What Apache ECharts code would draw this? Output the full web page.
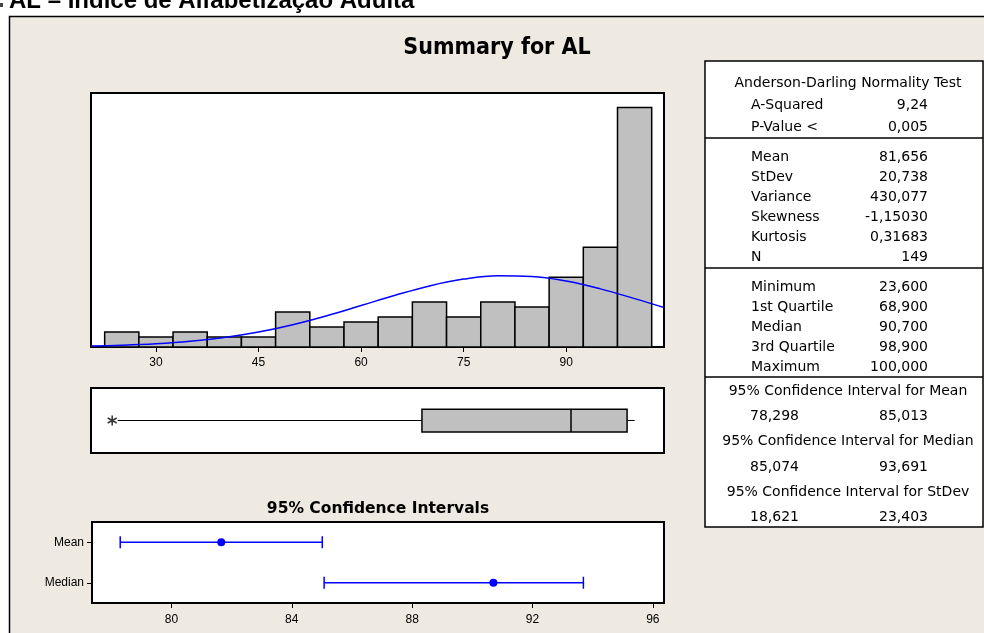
<!DOCTYPE html>
<html>
<head>
<meta charset="utf-8">
<script src="https://cdn.jsdelivr.net/npm/echarts@6/dist/echarts.min.js"></script>
<style>
  html, body { margin: 0; padding: 0; background: #fff; }
  #chart { width: 984px; height: 633px; }
</style>
</head>
<body>
<div id="chart"></div>
<script>
// histogram (bin centres, counts)
const binCenters = [25, 30, 35, 40, 45, 50, 55, 60, 65, 70, 75, 80, 85, 90, 95, 100]
const binCounts = [3, 2, 3, 2, 2, 7, 4, 5, 6, 9, 6, 9, 8, 14, 20, 48]
const binWidth = 5
// fitted normal curve
const curveX = [20.5, 25, 30, 35, 40, 45, 50, 55, 60, 65, 70, 75, 80, 85, 90, 95, 100, 104.3]
const curveY = [0.19, 0.34, 0.64, 1.14, 1.91, 3.0, 4.47, 6.27, 8.31, 10.38, 12.24, 13.61, 14.28, 14.15, 13.22, 11.65, 9.69, 7.9]
const histTicks = [30, 45, 60, 75, 90]

// box plot: lower whisker, Q1, median, Q3, upper whisker
const boxStats = [24.4, 68.9, 90.7, 98.9, 100]
const boxOutliers = [23.6]

// 95% confidence intervals
const ciRows = ['Median', 'Mean']
const ciLow = [85.074, 78.298]
const ciHigh = [93.691, 85.013]
const ciPoint = [90.7, 81.656]
const ciTicks = [80, 84, 88, 92, 96]

// summary table
const testLabels = ['A-Squared', 'P-Value <']
const testValues = ['9,24', '0,005']
const momentLabels = ['Mean', 'StDev', 'Variance', 'Skewness', 'Kurtosis', 'N']
const momentValues = ['81,656', '20,738', '430,077', '-1,15030', '0,31683', '149']
const quantLabels = ['Minimum', '1st Quartile', 'Median', '3rd Quartile', 'Maximum']
const quantValues = ['23,600', '68,900', '90,700', '98,900', '100,000']
const ciTitles = ['95% Confidence Interval for Mean', '95% Confidence Interval for Median', '95% Confidence Interval for StDev']
const ciBoundsLow = ['78,298', '85,074', '18,621']
const ciBoundsHigh = ['85,013', '93,691', '23,403']

const BEIGE = '#EEEAE1'
const BLUE = '#0000FF'
const TABLE_FONT = 'DejaVu Sans'
const NARROW = '"DejaVu Sans Condensed", "Liberation Sans Narrow", "Liberation Sans", sans-serif'

const chart = echarts.init(document.getElementById('chart'))

function txt (text, x, y, align, size, weight, family) {
  return {
    type: 'text',
    silent: true,
    style: {
      text: text,
      x: x,
      y: y,
      textAlign: align || 'left',
      textVerticalAlign: 'middle',
      fontSize: size || 14,
      fontWeight: weight || 'normal',
      fontFamily: family || TABLE_FONT,
      fill: '#000'
    }
  }
}

function hline (y) {
  return { type: 'line', silent: true, shape: { x1: 705, y1: y, x2: 983, y2: y }, style: { stroke: '#000', lineWidth: 1.5 } }
}

// build the table
const tableItems = [
  { type: 'rect', silent: true, shape: { x: 705, y: 61, width: 278, height: 466 }, style: { fill: '#fff', stroke: '#000', lineWidth: 1.5 } },
  txt('Anderson-Darling Normality Test', 848, 83, 'center'),
  hline(138), hline(268), hline(377)
]
testLabels.forEach((l, i) => {
  tableItems.push(txt(l, 751, 105 + i * 22), txt(testValues[i], 928, 105 + i * 22, 'right'))
})
momentLabels.forEach((l, i) => {
  tableItems.push(txt(l, 751, 157 + i * 20), txt(momentValues[i], 928, 157 + i * 20, 'right'))
})
quantLabels.forEach((l, i) => {
  tableItems.push(txt(l, 751, 287 + i * 20), txt(quantValues[i], 928, 287 + i * 20, 'right'))
})
ciTitles.forEach((t, i) => {
  const y = 391 + i * 50.5
  tableItems.push(txt(t, 848, y, 'center'))
  tableItems.push(txt(ciBoundsLow[i], 750, y + 25.5), txt(ciBoundsHigh[i], 928, y + 25.5, 'right'))
})

const axisText = { color: '#000', fontSize: 12, fontFamily: 'Liberation Sans' }

const option = {
  animation: false,
  backgroundColor: BEIGE,
  graphic: [
    { type: 'rect', silent: true, shape: { x: 0, y: 0, width: 984, height: 16 }, style: { fill: '#fff' } },
    { type: 'rect', silent: true, shape: { x: 0, y: 0, width: 9, height: 633 }, style: { fill: '#fff' } },
    { type: 'rect', silent: true, shape: { x: 0, y: 3, width: 3, height: 4 }, style: { fill: '#444' } },
    { type: 'polyline', silent: true, shape: { points: [[9.5, 633], [9.5, 16.5], [984, 16.5]] }, style: { stroke: '#000', lineWidth: 1.5, fill: null } },
    txt('AL – Índice de Alfabetização Adulta', 9, 1.5, 'left', 24, 'bold', '"Liberation Sans", Arial, sans-serif'),
    txt('Summary for AL', 497, 48, 'center', 23, 'bold', NARROW),
    txt('95% Confidence Intervals', 378, 509, 'center', 15.5, 'bold', 'DejaVu Sans')
  ].concat(tableItems),
  grid: [
    { left: 91, top: 93, width: 573, height: 254, show: true, backgroundColor: '#fff', borderColor: '#000', borderWidth: 2 },
    { left: 91, top: 388, width: 573, height: 65, show: true, backgroundColor: '#fff', borderColor: '#000', borderWidth: 2 },
    { left: 92, top: 522, width: 572, height: 81, show: true, backgroundColor: '#fff', borderColor: '#000', borderWidth: 2 }
  ],
  xAxis: [
    {
      gridIndex: 0,
      type: 'value',
      min: 20.5,
      max: 104.3,
      axisLine: { show: false },
      splitLine: { show: false },
      axisTick: { show: true, inside: false, length: 5, customValues: histTicks, lineStyle: { color: '#000', width: 1 } },
      axisLabel: { show: true, margin: 10, customValues: histTicks, ...axisText }
    },
    {
      gridIndex: 1,
      type: 'value',
      min: 20.5,
      max: 104.3,
      show: false
    },
    {
      gridIndex: 2,
      type: 'value',
      min: 77.36,
      max: 96.37,
      axisLine: { show: false },
      splitLine: { show: false },
      axisTick: { show: true, length: 5, customValues: ciTicks, lineStyle: { color: '#000', width: 1 } },
      axisLabel: { show: true, margin: 11, customValues: ciTicks, ...axisText }
    }
  ],
  yAxis: [
    { gridIndex: 0, type: 'value', min: 0, max: 50.9, show: false },
    { gridIndex: 1, type: 'value', min: -1, max: 1, show: false },
    {
      gridIndex: 2,
      type: 'category',
      data: ciRows,
      axisLine: { show: false },
      splitLine: { show: false },
      axisTick: { show: true, length: 5, alignWithLabel: true, lineStyle: { color: '#000', width: 1 } },
      axisLabel: { margin: 8, ...axisText }
    }
  ],
  series: [
    {
      type: 'custom',
      xAxisIndex: 0,
      yAxisIndex: 0,
      encode: { x: 0, y: 1 },
      data: binCenters.map((c, i) => [c, binCounts[i]]),
      renderItem (params, api) {
        const c = api.value(0)
        const p0 = api.coord([c - binWidth / 2, api.value(1)])
        const p1 = api.coord([c + binWidth / 2, 0])
        return {
          type: 'rect',
          shape: { x: p0[0], y: p0[1], width: p1[0] - p0[0], height: p1[1] - p0[1] },
          style: { fill: '#C0C0C0', stroke: '#000', lineWidth: 1.5 }
        }
      }
    },
    {
      type: 'line',
      xAxisIndex: 0,
      yAxisIndex: 0,
      smooth: 0.4,
      showSymbol: false,
      clip: true,
      lineStyle: { color: BLUE, width: 1.5 },
      data: curveX.map((x, i) => [x, curveY[i]])
    },
    {
      type: 'custom',
      xAxisIndex: 1,
      yAxisIndex: 1,
      encode: { x: [0, 1, 2, 3, 4] },
      data: [boxStats],
      renderItem (params, api) {
        const lo = api.coord([api.value(0), 0])
        const q1 = api.coord([api.value(1), 0.35])
        const md = api.coord([api.value(2), 0.35])
        const q3 = api.coord([api.value(3), -0.35])
        const hi = api.coord([api.value(4), 0])
        const stroke = { stroke: '#000', lineWidth: 1.5 }
        return {
          type: 'group',
          children: [
            { type: 'line', shape: { x1: lo[0], y1: lo[1], x2: q1[0], y2: lo[1] }, style: { stroke: '#000', lineWidth: 1 } },
            { type: 'line', shape: { x1: q3[0], y1: hi[1], x2: hi[0], y2: hi[1] }, style: { stroke: '#000', lineWidth: 1 } },
            { type: 'rect', shape: { x: q1[0], y: q1[1], width: q3[0] - q1[0], height: q3[1] - q1[1] }, style: { fill: '#C0C0C0', ...stroke } },
            { type: 'line', shape: { x1: md[0], y1: q1[1], x2: md[0], y2: q3[1] }, style: stroke }
          ]
        }
      }
    },
    {
      type: 'scatter',
      xAxisIndex: 1,
      yAxisIndex: 1,
      symbol: 'path://M0,-5L0,5M-4.3,-2.5L4.3,2.5M-4.3,2.5L4.3,-2.5',
      symbolSize: [9, 10],
      itemStyle: { color: 'rgba(0,0,0,0)', borderColor: '#000', borderWidth: 1.6 },
      data: boxOutliers.map(v => [v, 0])
    },
    {
      type: 'custom',
      xAxisIndex: 2,
      yAxisIndex: 2,
      encode: { x: [0, 1, 2], y: 3 },
      data: ciRows.map((r, i) => [ciLow[i], ciHigh[i], ciPoint[i], i]),
      renderItem (params, api) {
        const a = api.coord([api.value(0), api.value(3)])
        const b = api.coord([api.value(1), api.value(3)])
        const p = api.coord([api.value(2), api.value(3)])
        const s = { stroke: BLUE, lineWidth: 1.5 }
        return {
          type: 'group',
          children: [
            { type: 'line', shape: { x1: a[0], y1: a[1], x2: b[0], y2: b[1] }, style: s },
            { type: 'line', shape: { x1: a[0], y1: a[1] - 6, x2: a[0], y2: a[1] + 6 }, style: s },
            { type: 'line', shape: { x1: b[0], y1: b[1] - 6, x2: b[0], y2: b[1] + 6 }, style: s },
            { type: 'circle', shape: { cx: p[0], cy: p[1], r: 4 }, style: { fill: BLUE } }
          ]
        }
      }
    }
  ]
}

chart.setOption(option)
</script>
</body>
</html>
